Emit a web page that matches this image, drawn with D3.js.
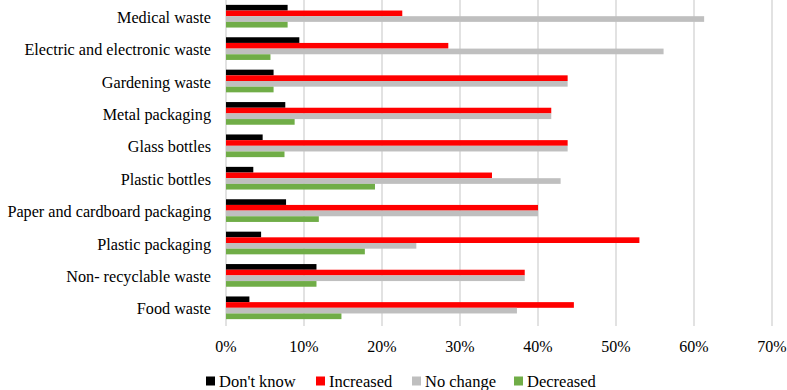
<!DOCTYPE html>
<html>
<head>
<meta charset="utf-8">
<script src="https://cdn.jsdelivr.net/npm/d3@7"></script>
<style>
  body { margin: 0; background: #fff; }
</style>
</head>
<body>
<div id="chart"></div>
<script>
// Data (percent)
const categories = [
  "Medical waste",
  "Electric and electronic waste",
  "Gardening waste",
  "Metal packaging",
  "Glass bottles",
  "Plastic bottles",
  "Paper and cardboard packaging",
  "Plastic packaging",
  "Non- recyclable waste",
  "Food waste"
];
const seriesNames = ["Don't know", "Increased", "No change", "Decreased"];
const dontKnow  = [7.9, 9.4, 6.1, 7.6, 4.7, 3.5, 7.7, 4.5, 11.6, 3.0];
const increased = [22.6, 28.5, 43.8, 41.7, 43.8, 34.1, 40.0, 53.0, 38.3, 44.6];
const noChange  = [61.3, 56.1, 43.8, 41.7, 43.8, 42.9, 40.0, 24.4, 38.3, 37.3];
const decreased = [7.9, 5.7, 6.1, 8.8, 7.5, 19.1, 11.9, 17.8, 11.6, 14.8];
const xTicks = [0, 10, 20, 30, 40, 50, 60, 70];

const seriesValues = [dontKnow, increased, noChange, decreased];
const colors = ["#000000", "#ff0000", "#bfbfbf", "#70ad47"];

const FONT = "'Liberation Serif', 'DejaVu Serif', serif";

const W = 787, H = 390;
const margin = { top: 0, right: 15, bottom: 66, left: 226 };
const width = W - margin.left - margin.right;
const height = H - margin.top - margin.bottom;

const svg = d3.select("#chart")
  .append("svg")
  .attr("width", W)
  .attr("height", H)
  .attr("font-family", FONT);

const g = svg.append("g")
  .attr("transform", `translate(${margin.left},${margin.top})`);

const x = d3.scaleLinear().domain([0, 70]).range([0, 546]);

const y = d3.scaleBand()
  .domain(categories)
  .range([0, height])
  .paddingInner(0.3)
  .paddingOuter(0.15);

const ySub = d3.scaleBand()
  .domain(seriesNames)
  .range([0, y.bandwidth()]);

// Gridlines
g.selectAll("line.grid")
  .data(xTicks)
  .join("line")
  .attr("class", "grid")
  .attr("x1", d => x(d))
  .attr("x2", d => x(d))
  .attr("y1", 0)
  .attr("y2", height + 2)
  .attr("stroke", "#d9d9d9")
  .attr("stroke-width", 1.5);

// Tick labels
g.selectAll("text.tick")
  .data(xTicks)
  .join("text")
  .attr("class", "tick")
  .attr("x", d => x(d))
  .attr("y", height + 28)
  .attr("text-anchor", "middle")
  .attr("font-family", FONT)
  .style("font-size", "16px")
  .text(d => d + "%");

// Category labels
g.selectAll("text.cat")
  .data(categories)
  .join("text")
  .attr("class", "cat")
  .attr("x", -15)
  .attr("y", d => y(d) + y.bandwidth() / 2 + 1)
  .attr("dy", "0.35em")
  .attr("text-anchor", "end")
  .attr("font-family", FONT)
  .style("font-size", "16.2px")
  .text(d => d);

// Bars
const rows = [];
categories.forEach((c, i) => {
  seriesNames.forEach((s, j) => {
    rows.push({ cat: c, series: s, value: seriesValues[j][i], color: colors[j] });
  });
});

g.selectAll("rect.bar")
  .data(rows)
  .join("rect")
  .attr("class", "bar")
  .attr("x", x(0))
  .attr("y", d => y(d.cat) + ySub(d.series))
  .attr("width", d => x(d.value) - x(0))
  .attr("height", ySub.bandwidth())
  .attr("fill", d => d.color);

// Legend
const legendX = [206, 316, 412, 514];
const legend = svg.append("g")
  .attr("transform", `translate(0, 381)`);

const items = legend.selectAll("g.item")
  .data(seriesNames)
  .join("g")
  .attr("class", "item")
  .attr("transform", (d, i) => `translate(${legendX[i]}, 0)`);

items.append("rect")
  .attr("x", 0)
  .attr("y", -4.5)
  .attr("width", 9)
  .attr("height", 9)
  .attr("fill", (d, i) => colors[i]);

items.append("text")
  .attr("x", 13)
  .attr("y", 0)
  .attr("dy", "0.35em")
  .attr("font-family", FONT)
  .style("font-size", "16.5px")
  .text(d => d);
</script>
</body>
</html>
